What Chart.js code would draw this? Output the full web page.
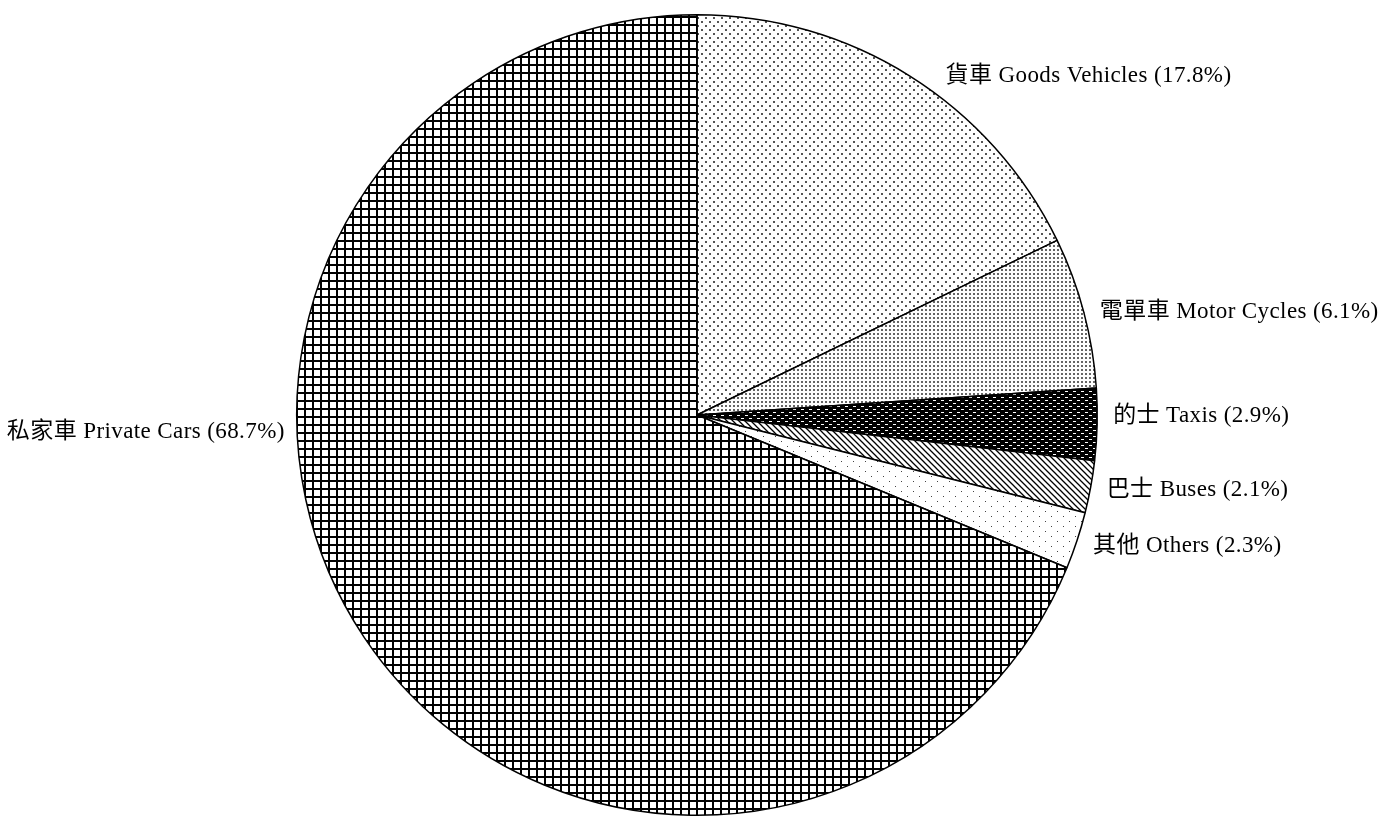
<!DOCTYPE html>
<html>
<head>
<meta charset="utf-8">
<script src="https://cdn.jsdelivr.net/npm/chart.js@4/dist/chart.umd.min.js"></script>
<style>
  html, body { margin: 0; padding: 0; background: #fff; }
  #wrap { width: 1384px; height: 817px; }
</style>
</head>
<body>
<div id="wrap"><canvas id="myChart" width="1384" height="817"></canvas></div>
<script>
// vehicle share, clockwise from 12 o'clock
const labels = [
    '貨車 Goods Vehicles (17.8%)',
    '電單車 Motor Cycles (6.1%)',
    '的士 Taxis (2.9%)',
    '巴士 Buses (2.1%)',
    '其他 Others (2.3%)',
    '私家車 Private Cars (68.7%)'
];
const shares = [17.8, 6.1, 2.9, 2.1, 2.3, 68.7];

// little helper to make a tiled fill
function makePattern(w, h, draw) {
    const c = document.createElement('canvas');
    c.width = w;
    c.height = h;
    const g = c.getContext('2d');
    draw(g);
    return document.getElementById('myChart').getContext('2d').createPattern(c, 'repeat');
}

const goodsFill = makePattern(8, 8, g => {
    g.fillStyle = '#fff'; g.fillRect(0, 0, 8, 8);
    g.fillStyle = '#555';
    g.fillRect(1, 1, 2, 2);
    g.fillRect(5, 5, 2, 2);
});
const motorFill = makePattern(4, 4, g => {
    g.fillStyle = '#fff'; g.fillRect(0, 0, 4, 4);
    g.fillStyle = '#666';
    g.fillRect(1, 1, 2, 2);
});
const taxiFill = makePattern(8, 6, g => {
    g.fillStyle = '#000'; g.fillRect(0, 0, 8, 6);
    g.fillStyle = '#fff';
    g.fillRect(1, 1, 3, 1);
    g.fillRect(5, 4, 3, 1);
});
const busFill = makePattern(6, 6, g => {
    g.fillStyle = '#fff'; g.fillRect(0, 0, 6, 6);
    g.strokeStyle = '#000';
    g.lineWidth = 1.3;
    g.beginPath();
    g.moveTo(-1, -1); g.lineTo(7, 7);
    g.moveTo(-4, 2); g.lineTo(4, 10);
    g.moveTo(2, -4); g.lineTo(10, 4);
    g.stroke();
});
const otherFill = makePattern(12, 10, g => {
    g.fillStyle = '#fff'; g.fillRect(0, 0, 12, 10);
    g.fillStyle = '#444';
    g.fillRect(1, 1, 1, 1);
    g.fillRect(7, 6, 1, 1);
});
const carFill = makePattern(8, 8, g => {
    g.fillStyle = '#fff'; g.fillRect(0, 0, 8, 8);
    g.fillStyle = '#000';
    g.fillRect(0, 0, 2, 8);
    g.fillRect(0, 0, 8, 2);
});

const fills = [goodsFill, motorFill, taxiFill, busFill, otherFill, carFill];

// draw the category text beside each slice
const sliceLabels = {
    id: 'sliceLabels',
    afterDatasetsDraw(chart) {
        const ctx = chart.ctx;
        const meta = chart.getDatasetMeta(0);
        ctx.save();
        ctx.font = '23px "Liberation Serif", "Noto Sans CJK TC", serif';
        ctx.letterSpacing = '0.4px';
        ctx.fillStyle = '#000';
        ctx.textBaseline = 'middle';
        meta.data.forEach((arc, i) => {
            const p = arc.getProps(['x', 'y', 'startAngle', 'endAngle', 'outerRadius'], true);
            const mid = (p.startAngle + p.endAngle) / 2;
            const ex = p.x + p.outerRadius * Math.cos(mid);
            const ey = p.y + p.outerRadius * Math.sin(mid);
            if (Math.cos(mid) >= 0) {
                ctx.textAlign = 'left';
                const gap = Math.sin(mid) < -0.5 ? 36 : 16;
                // spread the small slices apart a little, as in the original
                const push = Math.sin(mid) > 0.05 ? 16 * Math.sin(mid) : (Math.abs(Math.sin(mid)) < 0.05 ? -8 : 0);
                ctx.fillText(labels[i], ex + gap, ey + push);
            } else {
                ctx.textAlign = 'right';
                ctx.fillText(labels[i], p.x - p.outerRadius - 12, p.y + 17);
            }
        });
        ctx.restore();
    }
};

const data = {
    labels: labels,
    datasets: [{
        data: shares,
        backgroundColor: fills,
        borderColor: '#000',
        borderWidth: 1.5,
        hoverOffset: 0,
        offset: 0
    }]
};

const config = {
    type: 'pie',
    data: data,
    options: {
        responsive: false,
        animation: false,
        layout: { padding: { top: 14, bottom: 1, left: 10, right: 0 } },
        plugins: {
            legend: { display: false },
            tooltip: { enabled: false }
        }
    },
    plugins: [sliceLabels]
};

const myChart = new Chart(document.getElementById('myChart'), config);
</script>
</body>
</html>
